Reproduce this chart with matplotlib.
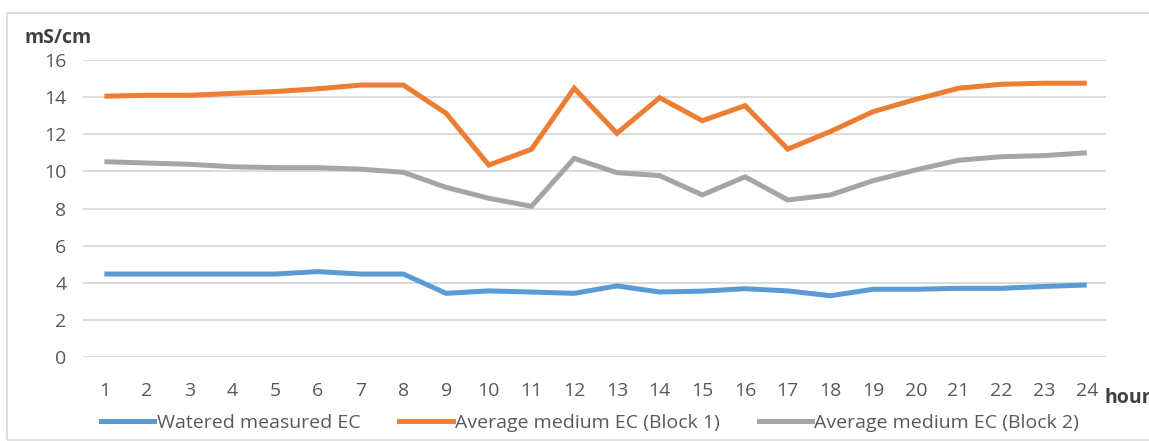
import matplotlib
matplotlib.use("Agg")
import matplotlib.pyplot as plt
from matplotlib.patches import Rectangle
from matplotlib.lines import Line2D

hours = list(range(1, 25))
watered = [4.47, 4.47, 4.47, 4.47, 4.47, 4.6, 4.47, 4.47, 3.43, 3.56, 3.5, 3.43,
           3.83, 3.5, 3.55, 3.68, 3.56, 3.3, 3.65, 3.65, 3.7, 3.7, 3.8, 3.88]
block1 = [14.05, 14.1, 14.1, 14.2, 14.3, 14.45, 14.65, 14.65, 13.13, 10.34, 11.19, 14.48,
          12.05, 13.97, 12.73, 13.54, 11.2, 12.15, 13.22, 13.88, 14.48, 14.69, 14.75, 14.75]
block2 = [10.52, 10.45, 10.38, 10.25, 10.2, 10.2, 10.12, 9.95, 9.14, 8.55, 8.12, 10.7,
          9.93, 9.77, 8.73, 9.71, 8.46, 8.73, 9.5, 10.08, 10.6, 10.79, 10.85, 11.0]
labels = ["Watered measured EC", "Average medium EC (Block 1)", "Average medium EC (Block 2)"]
colors = ["#5B9BD5", "#ED7D31", "#A5A5A5"]
yticks = [0, 2, 4, 6, 8, 10, 12, 14, 16]

plt.rcParams['font.family'] = ['Open Sans', 'DejaVu Sans']

fig = plt.figure(figsize=(11.49, 4.41), dpi=100)
fig.patches.append(Rectangle((7/1149, 0.002), 1.2, (441-13)/441 - 0.002, transform=fig.transFigure,
                             fill=False, edgecolor="#D9D9D9", linewidth=1.2))
ax = fig.add_axes([83/1149, 1-357/441, (1106-83)/1149, (357-60)/441])

lw = 3.6
for data, c in zip([watered, block1, block2], colors):
    ax.plot(hours, data, color=c, linewidth=lw, solid_capstyle='butt', solid_joinstyle='miter')

ax.set_xlim(0.5, 24.45)
ax.set_ylim(0, 16)
ax.set_yticks(yticks)
ax.set_xticks(hours)
ax.yaxis.grid(True, color="#D9D9D9", linewidth=1.3)
ax.set_axisbelow(True)
for s in ax.spines.values():
    s.set_visible(False)
ax.tick_params(axis='both', length=0, labelsize=14, labelcolor="#595959")
ax.tick_params(axis='x', pad=18)
ax.tick_params(axis='y', pad=12)

fig.text(24/1149, 1-38/441, "mS/cm", fontsize=14, fontweight='bold', color="#404040", va='center', ha='left')
fig.text(1104/1149, 1-398/441, "hour", fontsize=14, fontweight='bold', color="#404040", va='center', ha='left')

handles = [Line2D([0], [0], color=c, linewidth=lw) for c in colors]
fig.legend(handles, labels, loc='center', bbox_to_anchor=(590/1149, 1-423/441), ncol=3, frameon=False,
           fontsize=14, labelcolor="#595959", handlelength=2.75, handletextpad=0.12, columnspacing=2.0,
           borderpad=0, borderaxespad=0)

fig.savefig("out.png", dpi=100)
